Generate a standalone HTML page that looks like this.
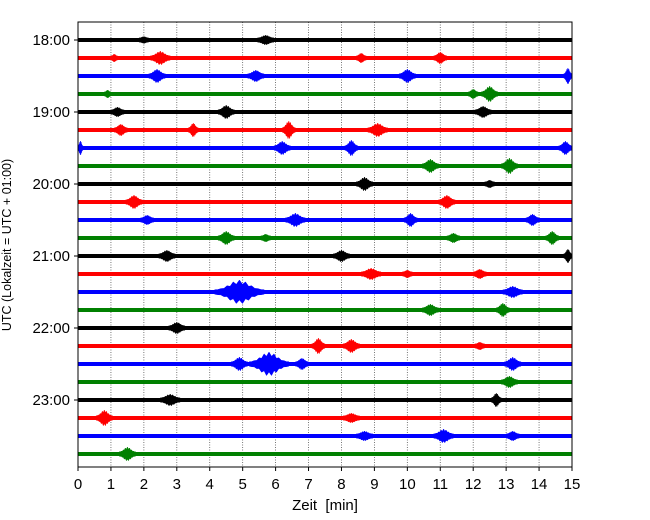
<!DOCTYPE html>
<html><head><meta charset="utf-8"><style>
body{margin:0;background:#fff;}
svg{display:block;font-family:"Liberation Sans","DejaVu Sans",sans-serif;}
</style></head><body>
<svg id="chart" width="650" height="520" viewBox="0 0 650 520"></svg>
<script>
const minutes=[0,1,2,3,4,5,6,7,8,9,10,11,12,13,14,15];
const hourLabels=["18:00","19:00","20:00","21:00","22:00","23:00"];
const colors=["black","red","blue","green"];
// events per trace row: [minute, amplitude px, duration min]
const events=[
[[5.7,3,0.5],[2.0,1.5,0.3]],
[[2.5,5,0.6],[8.6,3,0.3],[11.0,4,0.4],[1.1,2,0.2]],
[[2.4,5,0.5],[5.4,4,0.5],[10.0,5,0.5],[14.9,6,0.3]],
[[12.0,3,0.3],[12.5,6,0.5],[0.9,2,0.2]],
[[1.2,3,0.4],[4.5,5,0.5],[12.3,4,0.5]],
[[1.3,4,0.4],[3.5,5,0.3],[6.4,7,0.4],[9.1,5,0.6]],
[[0.0,5,0.3],[6.2,5,0.5],[8.3,6,0.4],[14.8,5,0.4]],
[[10.7,5,0.5],[13.1,6,0.5]],
[[8.7,5,0.5],[12.5,2,0.3]],
[[1.7,5,0.5],[11.2,5,0.5]],
[[2.1,3,0.4],[6.6,5,0.6],[10.1,5,0.4],[13.8,4,0.4]],
[[4.5,5,0.5],[5.7,2,0.3],[11.4,3,0.4],[14.4,5,0.4]],
[[2.7,4,0.5],[8.0,4,0.5],[14.9,5,0.3]],
[[8.9,4,0.6],[10.0,2,0.3],[12.2,3,0.4]],
[[4.9,10,1.5],[13.2,4,0.6]],
[[10.7,4,0.5],[12.9,5,0.4]],
[[3.0,4,0.5]],
[[7.3,6,0.4],[8.3,5,0.5],[12.2,2,0.3]],
[[4.9,5,0.5],[5.8,10,1.2],[6.8,4,0.4],[13.2,5,0.5]],
[[13.1,4,0.5]],
[[2.8,4,0.6],[12.7,5,0.3]],
[[0.8,6,0.5],[8.3,3,0.5]],
[[8.7,3,0.5],[11.1,5,0.6],[13.2,3,0.4]],
[[1.5,5,0.5]]
];
const L=78,R=572,T=22,B=467,row0=40,rowH=18;
const xs=m=>L+(R-L)*m/15;
const ys=i=>row0+i*rowH;
const NS="http://www.w3.org/2000/svg";
const svg=document.getElementById('chart');
function mk(t,a,p){const e=document.createElementNS(NS,t);for(const k in a)e.setAttribute(k,a[k]);(p||svg).appendChild(e);return e;}
minutes.forEach(m=>{if(m>0&&m<15){const g=mk('line',{x1:xs(m),x2:xs(m),y1:T,y2:B,stroke:'#555','stroke-width':0.8,'stroke-dasharray':'1,1.5'});

}});
events.forEach((ev,i)=>{
 const c=colors[i%4],y=ys(i);
 const g=mk('g',{fill:c,stroke:c});
 
 
 const base=mk('rect',{x:L,y:y-2,width:R-L,height:4,stroke:'none'},g);
 
 
 ev.forEach(([m,a,d])=>{
  const span=xs(d)-L;
  const xa=Math.max(L,xs(m)-span*0.5), xb=Math.min(R,xs(m)+span*0.5);
  const pts=[];const n=16;
  const env=t=>{const u=(t-0.5)/0.4;return Math.exp(-u*u*2.2);};
  for(let k=0;k<=n;k++){const t=k/n;const x=xa+(xb-xa)*t;const h=2+a*env(t)*(k%2?0.6:1);pts.push([x,y-h]);}
  for(let k=n;k>=0;k--){const t=k/n;const x=xa+(xb-xa)*t;const h=2+a*env(t)*(k%2?1:0.6);pts.push([x,y+h]);}
  const p=mk('polygon',{points:pts.map(q=>q.map(v=>v.toFixed(1)).join(',')).join(' '),'stroke-width':0.5},g);
  
  
 });
});
const f=mk('rect',{x:L,y:T,width:R-L,height:B-T,fill:'none',stroke:'black','stroke-width':1});


minutes.forEach(m=>{
 mk('line',{x1:xs(m),x2:xs(m),y1:B,y2:B+4,stroke:'black'});
 const t=mk('text',{x:xs(m),y:B+22,'font-size':15,'text-anchor':'middle'});t.textContent=m;
 
 
});
hourLabels.forEach((h,k)=>{
 const y=ys(k*4);
 mk('line',{x1:L-4,x2:L,y1:y,y2:y,stroke:'black'});
 const t=mk('text',{x:L-8,y:y+5,'font-size':15,'text-anchor':'end'});t.textContent=h;
 
 
});
const xt=mk('text',{x:(L+R)/2,y:510,'font-size':15,'text-anchor':'middle',style:'white-space:pre'});xt.textContent='Zeit  [min]';


const yt=mk('text',{x:0,y:0,'font-size':12.5,'text-anchor':'middle',transform:'translate(11,245) rotate(-90)'});yt.textContent='UTC (Lokalzeit = UTC + 01:00)';


</script>
</body></html>
